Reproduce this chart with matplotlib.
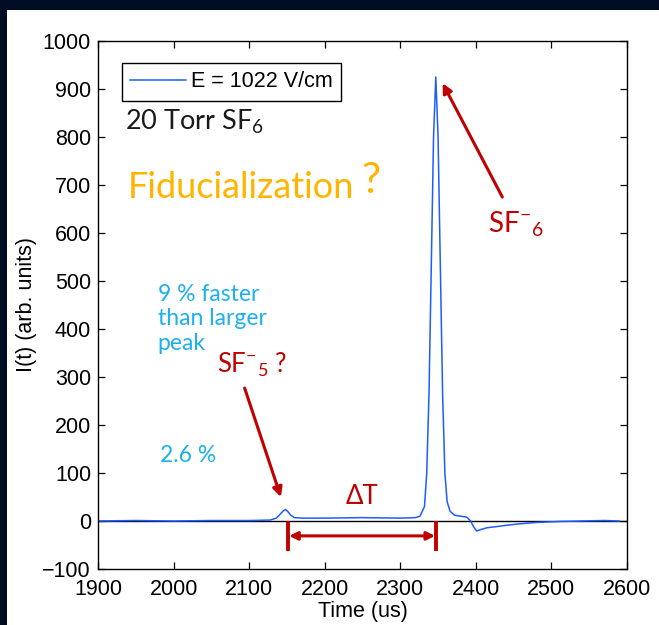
import matplotlib
matplotlib.use('Agg')
import matplotlib.pyplot as plt
from matplotlib.patches import Rectangle

# drift signal
time_us = [1900, 1950, 2000, 2050, 2100, 2128, 2136, 2141, 2145, 2148, 2151, 2155,
           2160, 2170, 2200, 2250, 2300, 2320, 2326, 2332, 2335, 2338, 2341, 2344,
           2347, 2350, 2353, 2356, 2359, 2362, 2366, 2372, 2380, 2388, 2393, 2397,
           2401, 2406, 2415, 2426, 2440, 2457, 2480, 2510, 2540, 2570, 2590]
current = [0, 1, 0, 1, 1, 2, 6, 14, 21, 24, 20, 12,
           7, 6, 6, 7, 6, 7, 10, 30, 100, 265, 530, 800,
           925, 800, 530, 265, 100, 40, 20, 12, 10, 8, 0, -12,
           -21, -18, -14, -12, -9, -6, -3, -1, 0, 1, 0]

legend_label = 'E = 1022 V/cm'
x_ticks = [1900, 2000, 2100, 2200, 2300, 2400, 2500, 2600]
y_ticks = [-100, 0, 100, 200, 300, 400, 500, 600, 700, 800, 900, 1000]

# markers for the two peaks
sf5_time = 2152
sf6_time = 2347

red = '#c00000'
sky = '#1cb0ee'
gold = '#ffb400'
calibri = ['Lato', 'Open Sans', 'DejaVu Sans']

plt.rcParams['font.family'] = ['Liberation Sans', 'DejaVu Sans']
plt.rcParams['mathtext.fontset'] = 'custom'
plt.rcParams['mathtext.rm'] = 'Lato'
plt.rcParams['mathtext.it'] = 'Lato:italic'
plt.rcParams['mathtext.default'] = 'regular'

fig = plt.figure(figsize=(6.59, 6.25), dpi=100)
fig.patch.set_facecolor('#000d24')
panel = Rectangle((7 / 659, 0), 1, 615 / 625, transform=fig.transFigure,
                  facecolor='white', edgecolor='none', zorder=-10)
fig.add_artist(panel)

ax = fig.add_axes([98 / 659, 56 / 625, 529 / 659, 528 / 625])
ax.set_facecolor('white')
ax.axhline(0, color='black', lw=1.0, zorder=1)
ax.plot(time_us, current, color='#1f5cff', lw=1.1, label=legend_label, zorder=2)

ax.set_xlim(1900, 2600)
ax.set_ylim(-100, 1000)
ax.set_xticks(x_ticks)
ax.set_yticks(y_ticks)
ax.tick_params(direction='in', length=5, width=0.9, top=True, right=True,
               labelsize=15.5)
ax.tick_params(axis='x', pad=7)
ax.tick_params(axis='y', pad=5)
for s in ax.spines.values():
    s.set_linewidth(1.0)
ax.set_xlabel('Time (us)', fontsize=15.5, labelpad=1)
ax.set_ylabel('I(t) (arb. units)', fontsize=15.5, labelpad=4)

leg = ax.legend(loc='upper left', bbox_to_anchor=(0.045, 0.958), fontsize=15.5,
                frameon=True, fancybox=False, edgecolor='black', framealpha=1,
                handlelength=2.6, handletextpad=0.25, borderpad=0.38,
                borderaxespad=0)
leg.get_frame().set_linewidth(1.0)

# annotations
ax.text(1936, 831, r'20 Torr SF$_6$', fontsize=19.5, color='#1a1a1a',
        family=calibri, va='center', ha='left')
ax.text(1939, 694, 'Fiducialization', fontsize=26, color=gold,
        family=calibri, va='center', ha='left')
ax.text(2249, 708, '?', fontsize=31, color=gold, family=calibri,
        va='center', ha='left')

ax.text(2416, 619, r'SF$^{-}{}_{6}$', fontsize=20, color=red,
        family=calibri, va='center', ha='left')
ax.annotate('', xy=(2356, 912), xytext=(2435, 675),
            arrowprops=dict(arrowstyle='-|>', color=red, lw=2.2,
                            mutation_scale=14, shrinkA=0, shrinkB=0))

ax.text(1979, 494, '9 % faster\nthan larger\npeak', fontsize=16.5, color=sky,
        family=calibri, va='top', ha='left', linespacing=1.2)
ax.text(2057, 325, r'SF$^{-}{}_{5}$ ?', fontsize=18.5, color=red,
        family=calibri, va='center', ha='left')
ax.annotate('', xy=(2142, 50), xytext=(2094, 277),
            arrowprops=dict(arrowstyle='-|>', color=red, lw=2.2,
                            mutation_scale=14, shrinkA=0, shrinkB=0))
ax.text(1982, 137, '2.6 %', fontsize=16.5, color=sky, family=calibri,
        va='center', ha='left')

ax.text(2249, 50, 'ΔT', fontsize=18.5, color=red, family=calibri,
        va='center', ha='center')
ax.plot([sf5_time, sf5_time], [0, -62], color=red, lw=2.8, solid_capstyle='butt')
ax.plot([sf6_time, sf6_time], [0, -62], color=red, lw=2.8, solid_capstyle='butt')
ax.annotate('', xy=(sf6_time - 1, -31), xytext=(sf5_time + 1, -31),
            arrowprops=dict(arrowstyle='<|-|>', color=red, lw=2.2,
                            mutation_scale=12, shrinkA=0, shrinkB=0))

fig.savefig('out.png', dpi=100, facecolor=fig.get_facecolor())
